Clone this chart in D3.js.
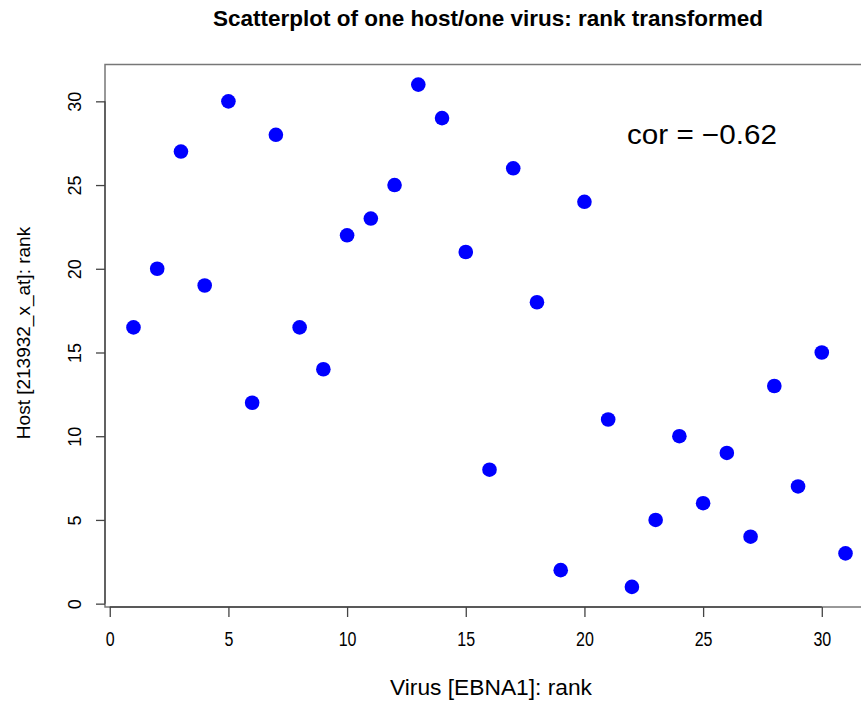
<!DOCTYPE html>
<html>
<head>
<meta charset="utf-8">
<style>
  body { margin: 0; background: #fff; }
  svg text { fill: #000; }
</style>
<script src="https://d3js.org/d3.v7.min.js"></script>
</head>
<body>
<svg width="861" height="702"></svg>
<script>
// rank of virus (EBNA1) and rank of host probe per sample
var virusRank = [1, 2, 3, 4, 5, 6, 7, 8, 9, 10, 11, 12, 13, 14, 15, 16,
                 17, 18, 19, 20, 21, 22, 23, 24, 25, 26, 27, 28, 29, 30, 31];
var hostRank = [16.5, 20, 27, 19, 30, 12, 28, 16.5, 14, 22, 23, 25, 31, 29, 21, 8,
                26, 18, 2, 24, 11, 1, 5, 10, 6, 9, 4, 13, 7, 15, 3];
var xTicks = [0, 5, 10, 15, 20, 25, 30];
var yTicks = [0, 5, 10, 15, 20, 25, 30];
var corLabel = "cor = \u22120.62";

var svg = d3.select("svg");

// R style: data range padded by 4%
var x = d3.scaleLinear().domain([-0.2, 32.2]).range([105, 874]);
var y = d3.scaleLinear().domain([-0.2, 32.2]).range([607, 64.5]);

var points = virusRank.map(function(v, i) { return {x: v, y: hostRank[i]}; });

// plot box
svg.append("rect")
   .attr("x", x(-0.2))
   .attr("y", y(32.2))
   .attr("width", x(32.2) - x(-0.2))
   .attr("height", y(-0.2) - y(32.2))
   .attr("fill", "none")
   .attr("stroke", "#777")
   .attr("stroke-width", 1.5);

var xAxis = svg.append("g")
   .attr("transform", "translate(0," + y(-0.2) + ")")
   .call(d3.axisBottom(x).tickValues(xTicks).tickSize(10).tickPadding(15).tickSizeOuter(0));

var yAxis = svg.append("g")
   .attr("transform", "translate(" + x(-0.2) + ",0)")
   .call(d3.axisLeft(y).tickValues(yTicks).tickSize(9).tickPadding(10).tickSizeOuter(0));

// axis line only spans first..last tick like R
xAxis.select(".domain").attr("d", "M" + x(0) + ",0H" + x(30));
yAxis.select(".domain").attr("d", "M0," + y(0) + "V" + y(30));

svg.selectAll(".domain, .tick line").attr("stroke", "#444").attr("stroke-width", 1.3);

// narrow look for the x tick labels
xAxis.selectAll(".tick text")
   .attr("font-family", "'Liberation Sans', sans-serif")
   .attr("font-size", "20px")
   .attr("fill", "#000")
   .attr("transform", "scale(0.8,1)");

yAxis.selectAll(".tick text")
   .attr("font-family", "'Liberation Sans', sans-serif")
   .attr("font-size", "18px")
   .attr("fill", "#000")
   .attr("text-anchor", "middle")
   .attr("dy", null)
   .attr("x", 0)
   .attr("y", 0)
   .attr("dominant-baseline", "central")
   .attr("transform", "translate(-30,0) rotate(-90)");

// points
svg.selectAll(".pt")
   .data(points)
   .enter().append("circle")
   .attr("class", "pt")
   .attr("cx", function(d) { return x(d.x); })
   .attr("cy", function(d) { return y(d.y); })
   .attr("r", 7.3)
   .attr("fill", "#0000ff");

// title
svg.append("text")
   .attr("x", 488)
   .attr("y", 26)
   .attr("text-anchor", "middle")
   .attr("font-family", "'Liberation Sans', sans-serif")
   .attr("font-weight", "bold")
   .attr("font-size", "22px")
   .attr("textLength", 550)
   .attr("lengthAdjust", "spacingAndGlyphs")
   .text("Scatterplot of one host/one virus: rank transformed");

// axis titles
svg.append("text")
   .attr("x", 491)
   .attr("y", 695)
   .attr("text-anchor", "middle")
   .attr("font-family", "'Liberation Sans', sans-serif")
   .attr("font-size", "22px")
   .attr("textLength", 202)
   .attr("lengthAdjust", "spacingAndGlyphs")
   .text("Virus [EBNA1]: rank");

svg.append("text")
   .attr("transform", "translate(30,333) rotate(-90)")
   .attr("text-anchor", "middle")
   .attr("font-family", "'Liberation Sans', sans-serif")
   .attr("font-size", "19px")
   .text("Host [213932_x_at]: rank");

svg.append("text")
   .attr("x", 627)
   .attr("y", 144)
   .attr("font-family", "'Liberation Sans', sans-serif")
   .attr("font-size", "27px")
   .attr("textLength", 150)
   .attr("lengthAdjust", "spacingAndGlyphs")
   .text(corLabel);
</script>
</body>
</html>
